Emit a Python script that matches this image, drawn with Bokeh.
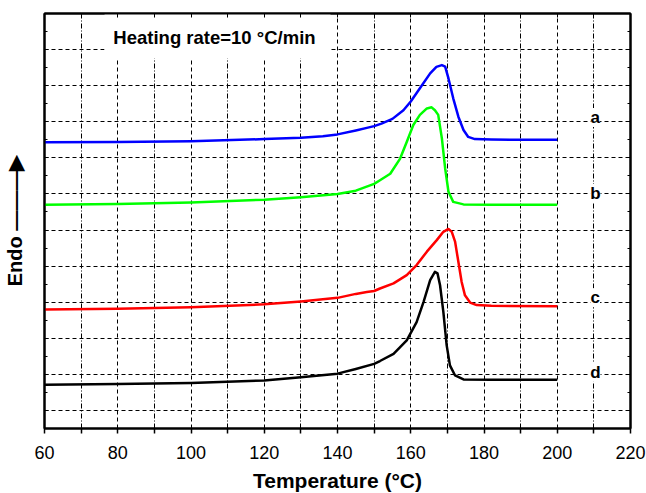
from bokeh.plotting import figure
from bokeh.models import Range1d, FixedTicker, LinearAxis, Label, CustomLabelingPolicy
from bokeh.embed import file_html
from bokeh.resources import INLINE

# ---- data (temperature in degC, heat flow in arbitrary stacked units) ----
a_temp = [60, 80, 100, 120, 130, 136, 140, 145, 148, 150, 152, 155, 158, 160, 162.5, 165.3, 167,
          168.5, 169.4, 170.3, 171.6, 173, 174.4, 175.7, 177.5, 182, 190, 200]
a_flow = [8.43, 8.44, 8.46, 8.52, 8.56, 8.60, 8.65, 8.76, 8.83, 8.88, 8.95, 9.08, 9.32, 9.56, 9.93, 10.34, 10.52,
          10.57, 10.53, 10.20, 9.65, 9.14, 8.77, 8.58, 8.52, 8.51, 8.50, 8.50]

b_temp = [60, 80, 100, 120, 130, 140, 145, 150, 151.6, 154.4, 157.1, 158.9, 160.7, 162.5, 164.4, 165.7,
          166.6, 167.5, 168.5, 169.4, 170.3, 171.6, 174.4, 182, 200]
b_flow = [6.70, 6.72, 6.76, 6.84, 6.91, 7.00, 7.09, 7.28, 7.38, 7.56, 7.98, 8.44, 8.91, 9.19, 9.37, 9.40,
          9.32, 9.19, 8.54, 7.70, 7.06, 6.78, 6.71, 6.70, 6.70]

c_temp = [60, 80, 100, 120, 130, 140, 145, 148, 150, 151.6, 155.3, 158.9, 161.6, 164.4, 167.1, 168.9,
          170.3, 171.2, 172.1, 173, 173.9, 174.8, 176.2, 178, 182, 200]
c_flow = [3.80, 3.82, 3.86, 3.94, 4.02, 4.12, 4.23, 4.28, 4.31, 4.38, 4.52, 4.75, 5.03, 5.40, 5.72, 5.95,
          6.03, 5.95, 5.68, 5.12, 4.56, 4.19, 3.99, 3.92, 3.90, 3.89]

d_temp = [60, 80, 100, 120, 130, 140, 145, 150, 151.6, 155.3, 158.9, 161.6, 163.5, 165.3, 166.6, 167.3,
          168, 168.9, 169.8, 170.7, 172.1, 174.4, 182, 200]
d_flow = [1.71, 1.73, 1.76, 1.83, 1.92, 2.02, 2.15, 2.29, 2.37, 2.57, 2.94, 3.45, 4.01, 4.61, 4.84, 4.80,
          4.47, 3.73, 2.81, 2.25, 1.97, 1.86, 1.85, 1.85]

curve_names = ["a", "b", "c", "d"]
curve_colors = ["#0000FF", "#00FF00", "#FF0000", "#000000"]
curve_label_y = [9.12, 7.01, 4.12, 2.06]
label_temp = 210.4

x_major = [60, 80, 100, 120, 140, 160, 180, 200, 220]
x_minor = [70, 90, 110, 130, 150, 170, 190, 210]
y_major = [1, 2, 3, 4, 5, 6, 7, 8, 9, 10, 11]
y_minor = [0.5, 1.5, 2.5, 3.5, 4.5, 5.5, 6.5, 7.5, 8.5, 9.5, 10.5, 11.5]

FONT = "Liberation Sans"
NO_LABELS = "for (const i of indices) indices.unset(i)"

p = figure(frame_width=586, frame_height=415,
           x_range=Range1d(60, 220), y_range=Range1d(0.5, 12),
           output_backend="svg", toolbar_location=None,
           min_border_left=44, min_border_right=16, min_border_top=13, min_border_bottom=65)
p.background_fill_color = "white"
p.border_fill_color = "white"
p.outline_line_color = "black"
p.outline_line_width = 2

# bottom axis
xa = p.xaxis[0]
xa.ticker = FixedTicker(ticks=x_major, minor_ticks=x_minor)
xa.axis_line_width = 2
xa.major_tick_in = 0
xa.major_tick_out = 5
xa.minor_tick_in = 0
xa.minor_tick_out = 5
xa.major_tick_line_width = 1.5
xa.minor_tick_line_width = 1.5
xa.major_label_text_font = FONT
xa.major_label_text_font_size = "18px"
xa.major_label_text_color = "black"
xa.major_label_standoff = 12
xa.axis_label = "Temperature (°C)"
xa.axis_label_text_font = FONT
xa.axis_label_text_font_size = "21px"
xa.axis_label_text_font_style = "bold"
xa.axis_label_text_color = "black"
xa.axis_label_standoff = 7

# left axis, its label carries the "Endo" arrow
ya = p.yaxis[0]
ya.ticker = FixedTicker(ticks=y_major, minor_ticks=y_minor)
ya.axis_line_width = 2
ya.major_tick_in = 4
ya.major_tick_out = 0
ya.minor_tick_in = 3
ya.minor_tick_out = 0
ya.major_label_text_font_size = "1px"
ya.major_label_standoff = 0
ya.major_label_policy = CustomLabelingPolicy(code=NO_LABELS)
ya.axis_label = "Endo \u2014\u2014\u2014\u25B6"
ya.axis_label_text_font = FONT
ya.axis_label_text_font_size = "20px"
ya.axis_label_text_font_style = "bold"
ya.axis_label_text_color = "black"
ya.axis_label_standoff = 14

# top and right axes (ticks only)
top = LinearAxis(ticker=FixedTicker(ticks=x_major, minor_ticks=x_minor),
                 major_label_text_font_size="1px", major_label_standoff=0,
                 major_label_policy=CustomLabelingPolicy(code=NO_LABELS),
                 major_tick_in=4, major_tick_out=0, minor_tick_in=4, minor_tick_out=0,
                 axis_line_width=2)
p.add_layout(top, "above")
right = LinearAxis(ticker=FixedTicker(ticks=y_major, minor_ticks=y_minor),
                   major_label_text_font_size="1px", major_label_standoff=0,
                   major_label_policy=CustomLabelingPolicy(code=NO_LABELS),
                   major_tick_in=4, major_tick_out=0, minor_tick_in=3, minor_tick_out=0,
                   axis_line_width=2)
p.add_layout(right, "right")

# grids
p.xgrid.ticker = FixedTicker(ticks=x_major[1:-1], minor_ticks=x_minor)
p.xgrid.grid_line_color = "black"
p.xgrid.grid_line_dash = "4 3"
p.xgrid.grid_line_width = 1
p.xgrid.minor_grid_line_color = "black"
p.xgrid.minor_grid_line_dash = "5 2 1 2"
p.xgrid.minor_grid_line_width = 1
p.ygrid.ticker = FixedTicker(ticks=y_major)
p.ygrid.grid_line_color = "black"
p.ygrid.grid_line_dash = "4 3"
p.ygrid.grid_line_width = 1

# white box behind the title text (hides the grid there)
p.quad(left=[76.4], right=[138.1], bottom=[10.75], top=[12.0],
       fill_color="white", line_color=None)

# curves
for xs, ys, col in zip([a_temp, b_temp, c_temp, d_temp],
                       [a_flow, b_flow, c_flow, d_flow], curve_colors):
    p.line(xs, ys, line_color=col, line_width=2.5, line_join="round")

# curve labels
for name, ly in zip(curve_names, curve_label_y):
    p.add_layout(Label(x=label_temp, y=ly, text=name, text_font=FONT, text_font_size="17px",
                       text_font_style="bold", text_align="center", text_baseline="middle",
                       text_color="black", background_fill_color="white"))

# in-plot title
p.add_layout(Label(x=78.8, y=11.33, text="Heating rate=10 °C/min", text_font=FONT,
                   text_font_size="18.5px", text_font_style="bold", text_align="left",
                   text_baseline="middle", text_color="black"))

open("out.html", "w").write(file_html(p, INLINE))
